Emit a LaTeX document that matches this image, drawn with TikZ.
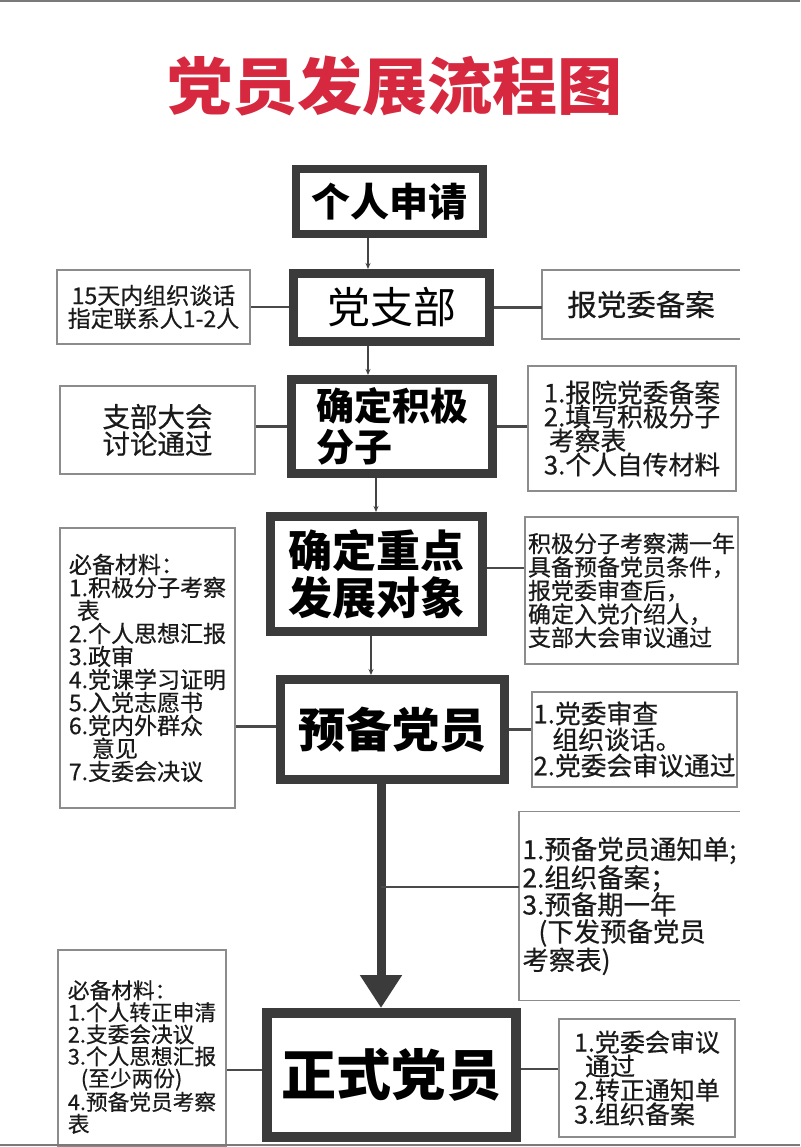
\documentclass[tikz,border=0pt]{standalone}
\usepackage{fontspec}
\usetikzlibrary{arrows.meta,calc}
\newfontfamily\sidefont[FakeBold=0.5]{Noto Sans CJK SC}
\newfontfamily\mfont{Noto Sans CJK SC}
\newfontfamily\tfont[FakeStretch=1.05]{Noto Sans CJK SC}
\definecolor{mainc}{HTML}{3B3B3B}
\definecolor{sidec}{HTML}{8C8C8C}
\definecolor{connc}{HTML}{4A4A4A}
\definecolor{arrc}{HTML}{444444}
\definecolor{titlec}{HTML}{D6283F}
\definecolor{framec}{HTML}{7A7A7A}
\definecolor{txtc}{HTML}{1A1A1A}
\newcommand\fs[2]{\fontsize{#1}{#2}\selectfont}
\begin{document}
\begin{tikzpicture}[x=1pt,y=-1pt,
  mainbox/.style={draw=mainc, line width=9pt, fill=white, inner sep=0pt, align=center, text=black},
  sidebox/.style={draw=sidec, line width=1.5pt, inner sep=0pt, align=left, text=txtc},
  openbox/.style={draw=none, inner sep=0pt, align=left, text=txtc},
  sideline/.style={draw=sidec, line width=1.5pt},
  conn/.style={draw=connc, line width=2.8pt},
  arr/.style={draw=arrc, line width=1.3pt, -{Stealth[length=6pt,width=5pt]}},
  bigarr/.style={draw=mainc, line width=9pt, -{Triangle[length=33pt,width=40pt]}},
  framel/.style={draw=framec, line width=2pt}
]
\useasboundingbox (0,0) rectangle (800,1147);
\fill[white] (0,0) rectangle (800,1147);
\draw[framel] (0,1) -- (800,1);

% title
\node[text=titlec, font=\tfont\bfseries\fs{62}{62}] (title) at (395,86) {党员发展流程图};

% main boxes
\node[mainbox, line width=8pt, minimum width=187pt, minimum height=65pt, font=\mfont\bfseries\fs{39}{39}] (box1) at (389.5,201.5) {个人申请};
\node[mainbox, minimum width=196pt, minimum height=68pt, font=\mfont\fs{43}{43}] (box2) at (391.5,307.5) {党支部};
\node[mainbox, minimum width=201pt, minimum height=94pt, align=left, font=\mfont\bfseries\fs{38}{41}] (box3) at (392,426.5) {确定积极\\分子};
\node[mainbox, minimum width=212pt, minimum height=115pt, font=\mfont\bfseries\fs{44}{47}] (box4) at (376.5,574) {确定重点\\发展对象};
\node[mainbox, minimum width=224pt, minimum height=100pt, font=\mfont\bfseries\fs{47}{47}] (box5) at (392.5,729.5) {预备党员};
\node[mainbox, line width=10pt, minimum width=249pt, minimum height=124pt, font=\mfont\bfseries\fs{55}{55}] (box6) at (391.5,1075) {正式党员};

% side boxes
\node[sidebox, align=center, minimum width=193pt, minimum height=74pt, font=\sidefont\fs{23}{23}] (L1) at (153.5,307) {15天内组织谈话\\指定联系人1-2人};
\node[openbox, minimum width=198pt, minimum height=69pt, font=\sidefont\fs{29.5}{29.5}] (R1) at (641,304.5) {报党委备案};
\node[sidebox, align=center, minimum width=195pt, minimum height=88pt, font=\sidefont\fs{27.5}{27}] (L2) at (157.5,430) {支部大会\\讨论通过};
\node[sidebox, minimum width=208pt, minimum height=125pt, font=\sidefont\fs{25.8}{24}] (R2) at (632,428.5) {1.报院党委备案\\2.填写积极分子\\\hspace*{5pt}考察表\\3.个人自传材料};
\node[sidebox, minimum width=175pt, minimum height=280pt, font=\sidefont\fs{23}{23}] (L3) at (147.5,668) {必备材料：\\1.积极分子考察\\\hspace*{8pt}表\\2.个人思想汇报\\3.政审\\4.党课学习证明\\5.入党志愿书\\6.党内外群众\\\hspace*{23pt}意见\\7.支委会决议};
\node[sidebox, minimum width=213pt, minimum height=147pt, font=\sidefont\fs{23}{23.5}] (R3) at (631.5,590.5) {积极分子考察满一年\\具备预备党员条件，\\报党委审查后，\\确定入党介绍人，\\支部大会审议通过};
\node[sidebox, minimum width=205pt, minimum height=95pt, font=\sidefont\fs{25.8}{26}] (R4) at (634.5,739.5) {1.党委审查\\\hspace*{19pt}组织谈话。\\2.党委会审议通过};
\node[openbox, minimum width=221pt, minimum height=189pt, font=\sidefont\fs{26.4}{27}] (R5) at (629.5,906) {1.预备党员通知单;\\2.组织备案；\\3.预备期一年\\\hspace*{16pt}(下发预备党员\\考察表)};
\node[sidebox, minimum width=168pt, minimum height=196pt] (L6) at (142,1048) {};
\node[openbox, font=\sidefont\fs{21.7}{22}] (L6t) at (142,1057) {必备材料：\\1.个人转正申清\\2.支委会决议\\3.个人思想汇报\\\hspace*{13pt}(至少两份)\\4.预备党员考察\\表};
\node[sidebox, minimum width=176pt, minimum height=118pt, font=\sidefont\fs{25}{24}] (R6) at (647,1078) {1.党委会审议\\\hspace*{11pt}通过\\2.转正通知单\\3.组织备案};

% open boxes sides
\draw[sideline] (R1.north east) -- (R1.north west) -- (R1.south west) -- (R1.south east);
\draw[sideline] (R5.north east) -- (R5.north west) -- (R5.south west) -- (R5.south east);

% thin arrows
\coordinate (a1) at (368,0);
\coordinate (a3) at (376,0);
\coordinate (a4) at (371,0);
\coordinate (ba) at (381,0);
\draw[arr] (box1.south -| a1) -- (box2.north -| a1);
\draw[arr] (box2.south -| a1) -- (box3.north -| a1);
\draw[arr] (box3.south -| a3) -- (box4.north -| a3);
\draw[arr] (box4.south -| a4) -- (box5.north -| a4);

% big arrow
\draw[bigarr] (box5.south -| ba) -- (box6.north -| ba);
\coordinate (j5) at (381,887);
\draw[conn] (j5) -- (j5 -| R5.west);

% side connectors
\draw[conn] (L1.east) -- (L1.east -| box2.west);
\draw[conn] (box2.east) -- (box2.east -| R1.west);
\draw[conn] (box3.west) -- (box3.west -| L2.east);
\draw[conn] (box3.east) -- (box3.east -| R2.west);
\draw[conn] ($(box4.east)+(0,-6)$) -- ($(box4.east -| R3.west)+(0,-6)$);
\draw[conn] ($(box5.west)+(0,-3)$) -- ($(box5.west -| L3.east)+(0,-3)$);
\draw[conn] (box5.east) -- (box5.east -| R4.west);
\draw[conn] ($(box6.west)+(0,-5)$) -- ($(box6.west -| L6.east)+(0,-5)$);
\draw[conn] ($(box6.east)+(0,-6)$) -- ($(box6.east -| R6.west)+(0,-6)$);

\draw[framel] (0,1145) -- (800,1145);
\end{tikzpicture}
\end{document}
